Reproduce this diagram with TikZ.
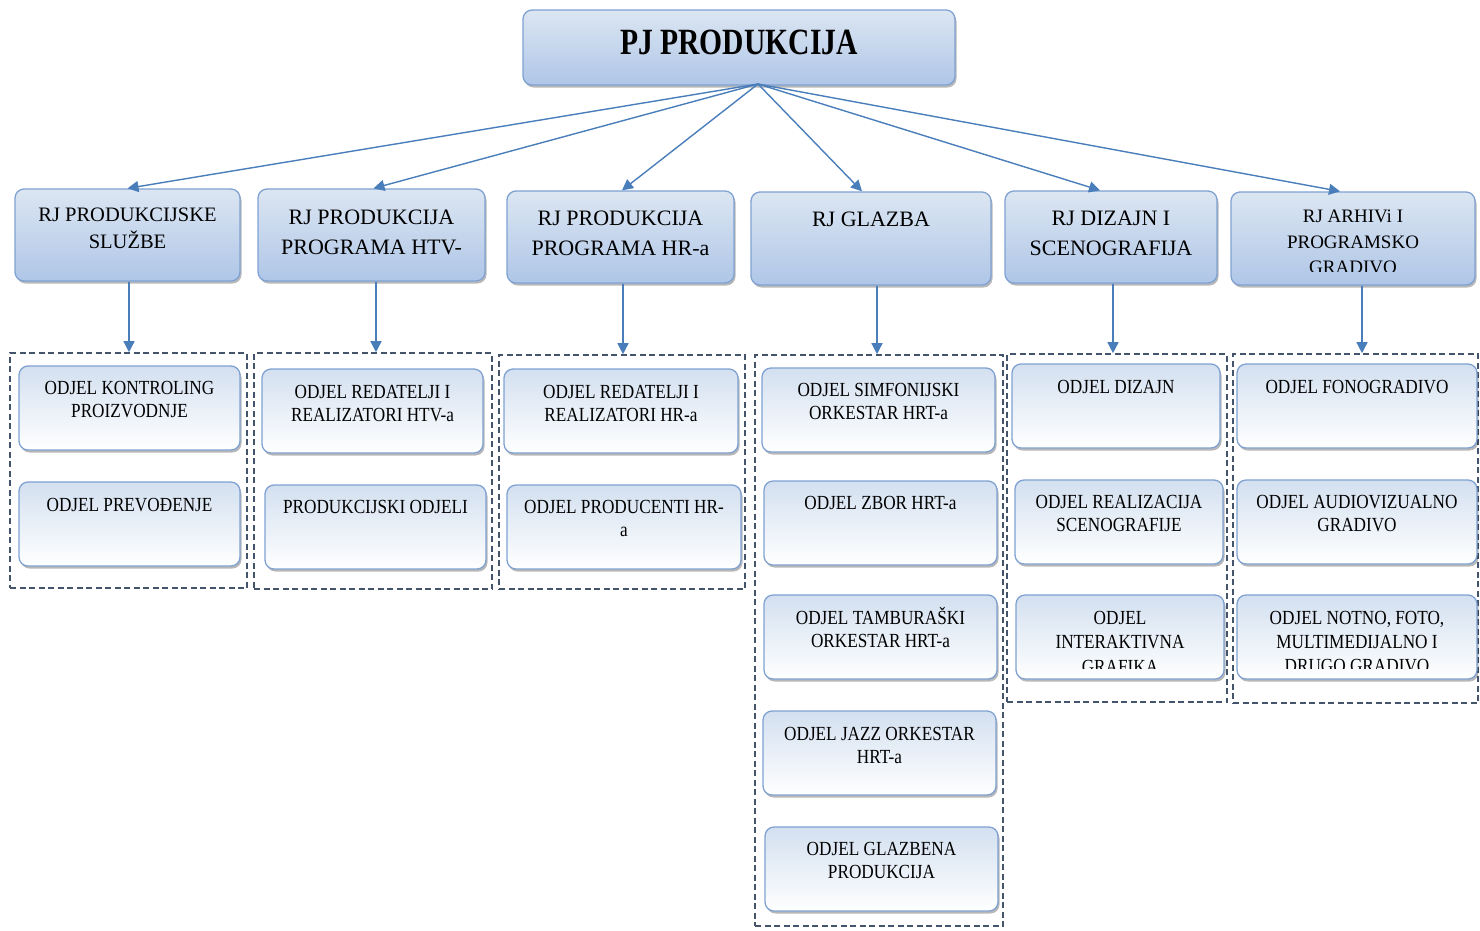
\documentclass[tikz,border=0pt]{standalone}
\usepackage{fontspec}
\setmainfont{Liberation Serif}
\newfontfamily\narrowserif{Liberation Serif}[FakeStretch=0.86]
\newfontfamily\narrowtop{Liberation Serif}[FakeStretch=0.8]
\usetikzlibrary{arrows.meta,shadows}
\definecolor{bordblue}{HTML}{7FA2D2}
\definecolor{arrowblue}{HTML}{4A7EBB}
\definecolor{dashgray}{HTML}{44546A}
\definecolor{lighttop}{HTML}{DCE6F2}
\definecolor{darkbot}{HTML}{AFC6E7}
\definecolor{lvthreetop}{HTML}{D3E0F0}
\tikzset{
  shadowed/.style={drop shadow={shadow xshift=1.5pt,shadow yshift=-2.5pt,fill=black,opacity=0.28}},
  boxtwo/.style={rectangle,rounded corners=9pt,draw=bordblue,line width=1.3pt,top color=lighttop,bottom color=darkbot,shadowed,inner sep=0pt},
  boxthree/.style={rectangle,rounded corners=9pt,draw=bordblue,line width=1.3pt,top color=lvthreetop,bottom color=white,shadowed,inner sep=0pt},
  grp/.style={rectangle,draw=dashgray,line width=1.6pt,dash pattern=on 6pt off 3.5pt,inner sep=0pt},
  toptext/.style={inner sep=0pt,align=center,font=\narrowtop\bfseries\fontsize{37}{40}\selectfont},
  ttwo/.style={inner sep=0pt,align=center,font=\fontsize{22}{30}\selectfont},
  tthree/.style={inner sep=0pt,align=center,font=\narrowserif\fontsize{20}{23}\selectfont},
  arr/.style={draw=arrowblue,line width=1.4pt,-{Triangle[length=11pt,width=11pt]}},
}
\newcommand\bx[6]{%
  \pgfmathsetmacro\cx{(#3+#5)/2}\pgfmathsetmacro\cy{(#4+#6)/2}%
  \pgfmathsetmacro\ww{#5-#3}\pgfmathsetmacro\hh{#6-#4}%
  \node[#1,minimum width=\ww pt,minimum height=\hh pt] (#2) at (\cx,\cy) {};}
\newcommand\tx[4]{\node[#1,anchor=north] (#2-t) at ([yshift=-#3pt]#2.north) {#4};}
\begin{document}
\begin{tikzpicture}[x=1pt,y=-1pt]
\useasboundingbox (0,0) rectangle (1480,930);
% dashed groups
\bx{grp}{g1}{10}{353}{247}{588}
\bx{grp}{g2}{254}{353}{492}{589}
\bx{grp}{g3}{499}{355}{745}{589}
\bx{grp}{g4}{755}{355}{1003}{926}
\bx{grp}{g5}{1007}{354}{1227}{702}
\bx{grp}{g6}{1233}{354}{1478}{703}
% top
\bx{boxtwo}{top}{523}{10}{955}{85}
\tx{toptext}{top}{20}{PJ PRODUKCIJA}
\coordinate (hub) at (758,84);
% level two
\bx{boxtwo}{b1}{15}{189}{240}{281}
\bx{boxtwo}{b2}{258}{189}{485}{281}
\bx{boxtwo}{b3}{507}{191}{734}{283}
\bx{boxtwo}{b4}{751}{192}{991}{285}
\bx{boxtwo}{b5}{1005}{191}{1217}{283}
\bx{boxtwo}{b6}{1231}{192}{1475}{285}
\tx{ttwo,font=\fontsize{20.5}{27}\selectfont}{b1}{19}{RJ PRODUKCIJSKE\\SLUŽBE}
\tx{ttwo}{b2}{21}{RJ PRODUKCIJA\\PROGRAMA HTV-}
\tx{ttwo}{b3}{20}{RJ PRODUKCIJA\\PROGRAMA HR-a}
\tx{ttwo}{b4}{20}{RJ GLAZBA}
\tx{ttwo}{b5}{20}{RJ DIZAJN I\\SCENOGRAFIJA}
\begin{scope}
\clip (1231,192) rectangle (1475,271.5);
\tx{ttwo,font=\fontsize{19}{25.5}\selectfont}{b6}{18.5}{RJ ARHIVi I\\PROGRAMSKO\\GRADIVO}
\end{scope}
% level three
\bx{boxthree}{i11}{19}{366}{240}{450}
\bx{boxthree}{i12}{19}{482}{240}{566}
\bx{boxthree}{i21}{262}{369}{483}{453}
\bx{boxthree}{i22}{265}{485}{486}{569}
\bx{boxthree}{i31}{504}{369}{738}{453}
\bx{boxthree}{i32}{507}{485}{741}{569}
\bx{boxthree}{i41}{762}{368}{995}{452}
\bx{boxthree}{i42}{764}{481}{997}{565}
\bx{boxthree}{i43}{764}{595}{997}{679}
\bx{boxthree}{i44}{763}{711}{996}{795}
\bx{boxthree}{i45}{765}{827}{998}{911}
\bx{boxthree}{i51}{1012}{364}{1220}{448}
\bx{boxthree}{i52}{1015}{480}{1223}{564}
\bx{boxthree}{i53}{1016}{595}{1224}{679}
\bx{boxthree}{i61}{1237}{364}{1477}{448}
\bx{boxthree}{i62}{1237}{480}{1477}{564}
\bx{boxthree}{i63}{1237}{595}{1477}{679}
\tx{tthree}{i11}{15.5}{ODJEL KONTROLING\\PROIZVODNJE}
\tx{tthree}{i12}{16.5}{ODJEL PREVOĐENJE}
\tx{tthree}{i21}{16.5}{ODJEL REDATELJI I\\REALIZATORI HTV-a}
\tx{tthree}{i22}{15.5}{PRODUKCIJSKI ODJELI}
\tx{tthree}{i31}{16.5}{ODJEL REDATELJI I\\REALIZATORI HR-a}
\tx{tthree}{i32}{15.5}{ODJEL PRODUCENTI HR-\\a}
\tx{tthree}{i41}{15.5}{ODJEL SIMFONIJSKI\\ORKESTAR HRT-a}
\tx{tthree}{i42}{15.5}{ODJEL ZBOR HRT-a}
\tx{tthree}{i43}{12.5}{ODJEL TAMBURAŠKI\\ORKESTAR HRT-a}
\tx{tthree}{i44}{16.5}{ODJEL JAZZ ORKESTAR\\HRT-a}
\tx{tthree}{i45}{15.5}{ODJEL GLAZBENA\\PRODUKCIJA}
\tx{tthree}{i51}{16.5}{ODJEL DIZAJN}
\tx{tthree}{i52}{15.5}{ODJEL REALIZACIJA\\SCENOGRAFIJE}
\tx{tthree}{i61}{16.5}{ODJEL FONOGRADIVO}
\tx{tthree}{i62}{15.5}{ODJEL AUDIOVIZUALNO\\GRADIVO}
\begin{scope}
\clip (1016,595) rectangle (1224,668);
\tx{tthree,font=\narrowserif\fontsize{20}{24.5}\selectfont}{i53}{16.5}{ODJEL\\INTERAKTIVNA\\GRAFIKA}
\end{scope}
\begin{scope}
\clip (1237,595) rectangle (1477,668);
\tx{tthree,font=\narrowserif\fontsize{20}{24}\selectfont}{i63}{16.5}{ODJEL NOTNO, FOTO,\\MULTIMEDIJALNO I\\DRUGO GRADIVO}
\end{scope}
% connectors top -> level two
\draw[arr] (hub) -- (b1.north);
\draw[arr] (hub) -- ([xshift=2pt]b2.north);
\draw[arr] (hub) -- ([xshift=1.5pt]b3.north);
\draw[arr] (hub) -- ([xshift=-9pt]b4.north);
\draw[arr] (hub) -- ([xshift=-11pt]b5.north);
\draw[arr] (hub) -- ([xshift=-13pt]b6.north);
% level two -> groups
\draw[arr] ([xshift=1.5pt]b1.south) -- ([xshift=1.5pt]b1.south |- g1.north) ;
\draw[arr] ([xshift=4.5pt]b2.south) -- ([xshift=4.5pt]b2.south |- g2.north);
\draw[arr] ([xshift=2.5pt]b3.south) -- ([xshift=2.5pt]b3.south |- g3.north);
\draw[arr] ([xshift=6pt]b4.south) -- ([xshift=6pt]b4.south |- g4.north);
\draw[arr] ([xshift=2pt]b5.south) -- ([xshift=2pt]b5.south |- g5.north);
\draw[arr] ([xshift=9pt]b6.south) -- ([xshift=9pt]b6.south |- g6.north);
\end{tikzpicture}
\end{document}
